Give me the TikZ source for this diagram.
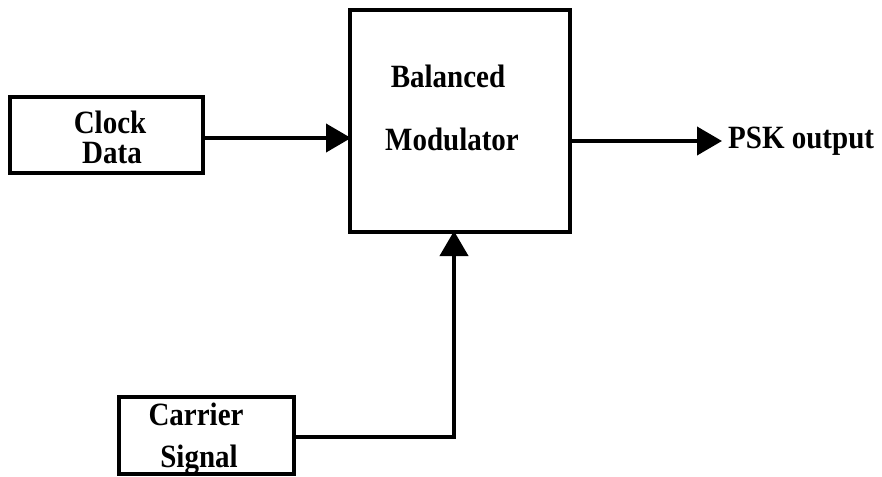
\documentclass[tikz,border=0pt]{standalone}
\usepackage{fontspec}
\setmainfont{Liberation Serif}
\usetikzlibrary{arrows.meta}
\newcommand{\vstretch}[1]{\scalebox{1}[1.12]{#1}}
\begin{document}
\begin{tikzpicture}[x=1pt,y=-1pt,
  box/.style={draw=black,line width=4pt,rectangle,inner sep=0pt},
  lbl/.style={font=\fontsize{29}{30}\selectfont\bfseries,align=center,inner sep=0pt},
  arr/.style={line width=4pt,-{Triangle[length=25pt,width=28pt]},shorten >=-3pt}]
\useasboundingbox[fill=white] (0,0) rectangle (882,476);
% boxes
\node[box,minimum width=193pt,minimum height=76pt] (clock) at (106.5,135) {};
\node[box,minimum width=220pt,minimum height=222pt] (mod) at (460,121) {};
\node[box,minimum width=175pt,minimum height=77pt] (car) at (206.5,435.5) {};
% texts
\node[lbl,anchor=base] (clockt) at (110,133) {\vstretch{Clock}};
\node[lbl,anchor=base] (datat) at (112,163) {\vstretch{Data}};
\node[lbl,anchor=base] (balt) at (448,88) {\vstretch{Balanced}};
\node[lbl,anchor=base] (modt) at (452,150) {\vstretch{Modulator}};
\node[lbl,anchor=base] (cart) at (196,425) {\vstretch{Carrier}};
\node[lbl,anchor=base] (sigt) at (199,467) {\vstretch{Signal}};
\node[lbl,anchor=base west,inner sep=0pt] (psk) at (728,148) {\vstretch{PSK output}};
\coordinate (pskin) at (719,141);
% connectors
\draw[arr] ([yshift=-3pt]clock.east) -- ([yshift=-3pt]clock.east -| mod.west);
\draw[arr] (mod.east |- pskin) -- (pskin);
\draw[arr] ([yshift=-1.5pt]car.east) -| ([xshift=-6pt]mod.south);
\end{tikzpicture}
\end{document}
